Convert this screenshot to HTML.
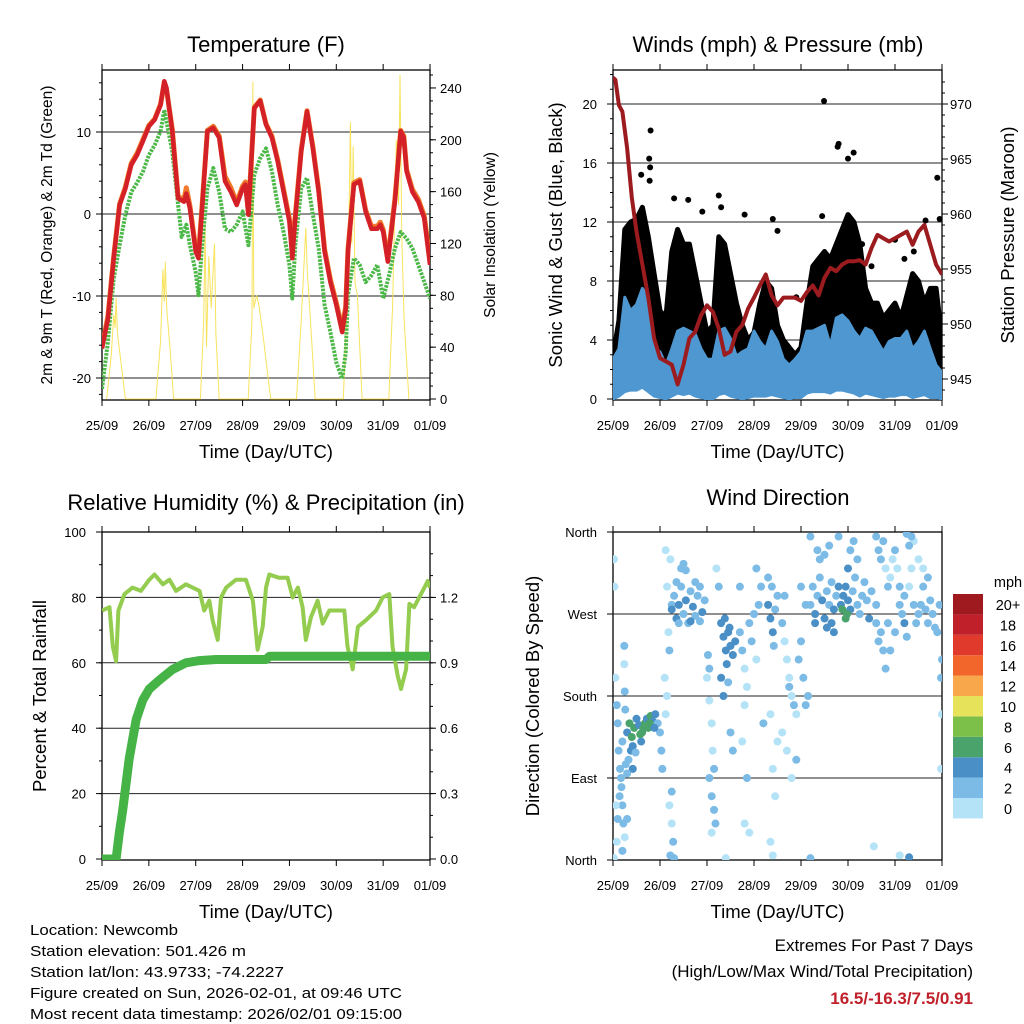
<!DOCTYPE html>
<html><head><meta charset="utf-8"><style>
html,body{margin:0;padding:0;background:#fff}
svg{display:block;font-family:"Liberation Sans",Arial,sans-serif}
</style></head><body>
<svg id="fig" width="1024" height="1024" viewBox="0 0 1024 1024" xmlns="http://www.w3.org/2000/svg">
<defs>
<clipPath id="c1"><rect x="102" y="70" width="328" height="330"/></clipPath>
<clipPath id="c2"><rect x="613" y="70" width="329" height="330"/></clipPath>
<clipPath id="c3"><rect x="102" y="532" width="328" height="328"/></clipPath>
<clipPath id="c4"><rect x="613" y="532" width="329" height="328"/></clipPath>
</defs>
<g id="layer"></g>
<g font-size="15" fill="#000">
<text x="30" y="935" textLength="148" lengthAdjust="spacingAndGlyphs">Location: Newcomb</text>
<text x="30" y="956" textLength="216" lengthAdjust="spacingAndGlyphs">Station elevation: 501.426 m</text>
<text x="30" y="977" textLength="254" lengthAdjust="spacingAndGlyphs">Station lat/lon: 43.9733; -74.2227</text>
<text x="30" y="998" textLength="372" lengthAdjust="spacingAndGlyphs">Figure created on Sun, 2026-02-01, at 09:46 UTC</text>
<text x="30" y="1019" textLength="372" lengthAdjust="spacingAndGlyphs">Most recent data timestamp: 2026/02/01 09:15:00</text>
</g>
<g font-size="17" text-anchor="end">
<text x="973" y="951">Extremes For Past 7 Days</text>
<text x="973" y="977">(High/Low/Max Wind/Total Precipitation)</text>
<text x="973" y="1004" fill="#c0202a" font-weight="bold">16.5/-16.3/7.5/0.91</text>
</g>
</svg>
<script>
// ---------- Temperature data ----------
const tDays=[0,0.125,0.25,0.375,0.5,0.625,0.75,0.875,1.0,1.125,1.25,1.33,1.375,1.5,1.625,1.75,1.8,1.875,2.0,2.06,2.125,2.25,2.375,2.5,2.625,2.75,2.875,3.0,3.06,3.125,3.25,3.375,3.5,3.625,3.75,3.875,4.0,4.06,4.125,4.25,4.375,4.5,4.625,4.75,4.875,5.0,5.125,5.2,5.25,5.375,5.5,5.625,5.75,5.875,5.94,6.0,6.1,6.25,6.375,6.44,6.5,6.625,6.75,6.875,7.0];
const tempRed=[-16.4,-12.8,-5.4,1.1,3.1,6,7.2,8.9,10.7,11.5,13.3,16.2,15.4,10.1,1.9,1.5,2.5,0.7,-4.6,-5.4,-0.1,10.1,10.5,9.3,4,2.7,1.1,3.1,3.6,-0.1,12.9,13.8,10.9,9.3,6.4,2.7,-0.9,-5.4,-0.5,7.6,12.5,8,2.7,-4.6,-8.3,-11.1,-14.4,-11.6,-4.6,3.6,4,0.3,-1.8,-1.8,-1.3,-2.2,-5.8,1.5,10.1,9.3,5.2,2.7,1.5,-0.5,-6.2];
const tempOrange=[-16.2,-12.5,-5.2,1.2,3.3,6.2,7.4,9.1,10.8,11.6,13.4,16.1,15.3,10.3,2.1,1.8,3.2,1.0,-4.2,-5.0,0.2,10.2,10.7,9.5,4.6,3.2,1.4,3.4,3.9,0.2,13.0,13.9,11.0,9.5,6.6,3.0,-0.6,-3.8,-0.2,7.8,12.6,8.2,2.9,-4.3,-8.0,-10.8,-14.0,-11.3,-4.3,3.8,4.2,0.5,-1.5,-1.5,-1.0,-1.9,-5.5,1.8,10.2,9.5,5.4,3.0,1.8,-0.2,-5.6];
const tdDays=[0,0.125,0.25,0.375,0.5,0.625,0.75,0.875,1.0,1.125,1.25,1.33,1.5,1.625,1.7,1.8,1.875,2.0,2.06,2.125,2.25,2.375,2.5,2.625,2.75,2.875,3.0,3.125,3.25,3.375,3.5,3.625,3.75,3.875,4.0,4.06,4.125,4.25,4.375,4.5,4.625,4.75,4.875,5.0,5.125,5.2,5.25,5.375,5.5,5.625,5.75,5.875,6.0,6.125,6.25,6.375,6.5,6.625,6.75,7.0];
const tempDew=[-21.3,-15.6,-7.9,-3.8,-0.1,2.7,3.8,5.2,7.2,8.4,10.1,12.7,7.6,1.1,-2.8,-1.3,-3.8,-7.1,-9.9,-4.6,3.1,5.6,2.7,-1.8,-2.2,-1.3,0.3,-3.8,4.8,6.8,8,5.2,1.1,-2.2,-6.2,-10.3,-3.8,3.1,4.4,-0.1,-4.2,-11.1,-14.4,-18.1,-20.1,-16.9,-9.9,-5.4,-6.2,-8.3,-7.5,-6.2,-10.3,-7.5,-4.2,-2.2,-3.0,-4.2,-6.2,-10.3];
const solarDays=[0.1,0.2,0.25,0.28,0.3,0.33,0.4,0.5, 1.15,1.25,1.3,1.33,1.35,1.38,1.45,1.53, 2.1,2.17,2.2,2.23,2.28,2.33,2.4,2.43,2.5, 3.12,3.2,3.22,3.24,3.3,3.35,3.45,3.6, 4.15,4.25,4.32,4.35,4.38,4.45,4.55, 5.15,5.25,5.3,5.33,5.36,5.4,5.45,5.55, 6.12,6.2,6.28,6.33,6.36,6.4,6.45,6.55];
const solarVals=[0,35,65,55,78,50,30,0, 0,45,100,75,106,70,40,0, 0,60,135,40,110,70,120,50,0, 0,60,245,70,80,72,45,0, 0,60,110,132,100,60,0, 0,90,214,120,195,90,80,0, 0,70,200,150,250,120,60,0];
const tempTicks=[-20,-10,0,10];
const solarTicks=[0,40,80,120,160,200,240];
// ---------- Wind / pressure data ----------
const wDays=[0,0.125,0.25,0.375,0.5,0.625,0.75,0.875,1.0,1.125,1.25,1.375,1.5,1.625,1.75,1.875,2.0,2.125,2.25,2.375,2.5,2.625,2.75,2.875,3.0,3.125,3.25,3.375,3.5,3.625,3.75,3.875,4.0,4.125,4.25,4.375,4.5,4.625,4.75,4.875,5.0,5.125,5.25,5.375,5.5,5.625,5.75,5.875,6.0,6.125,6.25,6.375,6.5,6.625,6.75,6.875,7.0];
const windHi=[2.7,3.4,6.9,6.0,6.4,7.5,6.9,3.4,3.2,2.3,3.4,4.6,4.8,4.6,4.4,3.4,2.7,2.7,4.6,4.8,4.1,2.9,3.2,3.4,4.6,3.9,3.4,4.6,3.9,2.7,2.3,2.7,3.2,4.6,4.6,4.8,5.0,3.6,5.5,5.7,5.3,4.6,4.1,4.8,4.6,3.9,3.2,3.9,4.1,4.1,4.6,3.4,3.9,4.6,3.4,2.3,1.8];
const windLo=[0,0.2,0.5,0.6,0.6,0.8,0.5,0.2,0.1,0,0.2,0.4,0.3,0.4,0.2,0.1,0,0,0.3,0.4,0.2,0.1,0,0.1,0.2,0.2,0.2,0.3,0.2,0.1,0,0.1,0.1,0.4,0.5,0.5,0.5,0.4,0.6,0.6,0.5,0.4,0.2,0.4,0.3,0.2,0.1,0.2,0.2,0.3,0.3,0.1,0.2,0.3,0.1,0.1,0];
const gustHi=[2.9,5.3,11.5,12,12.2,13,11,8.5,6,5.5,10,11.5,10.5,10.5,8.5,6.5,4.5,5,11,10.5,8.5,6.5,5,4,4.5,6.5,8,7.5,5,4,3.5,3,3.5,6.5,9,9.5,10,9.5,10.5,11.5,12.5,12,10.5,7.5,6.5,6.5,5.5,6,6.5,5.5,7,8.5,8,6.5,7.5,7.5,4];
const gustLo=[0.8,2,3.5,3.5,3.8,4.5,4,2.5,2,1.5,2.5,3.5,3.5,3.5,3,2.5,1.5,1.5,3,3.5,3,2.2,2,2,3,2.5,2.5,3,2.5,2,1.8,1.8,2,3,3.5,3.5,3.5,3,4,4,4,3.5,3,3,3,2.5,2,2.5,2.5,2.5,3,2.5,2.5,3,2.5,2,1];
const gustOutDays=[0.78,0.79,0.8,0.77,1.6,1.9,2.3,2.8,3.4,3.5,4.45,4.49,4.78,4.8,5.0,5.12,6.0,6.65,6.9,6.95,0.6,1.3,2.25,3.9,5.3,5.5,6.2,6.4];
const gustOutVals=[14.8,15.7,18.2,16.3,13.5,12.7,13,12.5,12.2,11.4,12.4,20.2,17.1,17.3,16.3,16.7,10.8,12.1,15.0,12.2,15.2,13.6,13.8,6.9,10.5,9,9.5,10];
const presDays=[0,0.05,0.125,0.2,0.3,0.4,0.5,0.625,0.75,0.875,1.0,1.125,1.25,1.375,1.5,1.625,1.75,1.875,2.0,2.125,2.25,2.375,2.5,2.625,2.75,2.875,3.0,3.125,3.25,3.375,3.5,3.625,3.75,3.875,4.0,4.125,4.25,4.375,4.5,4.625,4.75,4.875,5.0,5.125,5.25,5.375,5.5,5.625,5.75,5.875,6.0,6.125,6.25,6.375,6.5,6.625,6.75,6.875,7.0];
const presVals=[972.4,972.2,969.9,969.3,966,961.5,958.4,955.4,952.4,948.7,946.9,946.6,946.3,944.5,946.3,948.7,949.3,950.8,951.7,951.1,949.6,947.2,947.5,949.3,949.9,951.4,952.4,953.5,954.5,952.6,951.7,952.4,952.4,952.4,952.1,952.9,953.5,952.6,954.2,955.1,954.8,955.4,955.7,955.7,955.8,955.4,956.9,958.1,957.8,957.5,957.8,958.1,958.4,957.2,958.4,959.0,957.2,955.4,954.5];
const windTicks=[0,4,8,12,16,20];
const presTicks=[945,950,955,960,965,970];
// ---------- RH / precip data ----------
const rhDays=[0,0.16,0.23,0.3,0.35,0.48,0.65,0.83,1.01,1.12,1.3,1.44,1.58,1.79,2.08,2.18,2.29,2.36,2.47,2.54,2.65,2.86,3.07,3.22,3.32,3.43,3.5,3.57,3.78,3.96,4.07,4.18,4.28,4.35,4.46,4.6,4.71,4.85,5.06,5.17,5.24,5.35,5.46,5.63,5.85,5.99,6.13,6.2,6.31,6.38,6.49,6.56,6.66,6.77,6.88,6.95,7.0];
const rhVals=[76,77,65,60.5,76,81,83,82,85.4,87,84,85.4,82,84,82,76,79,73,67,80,83,85.4,85.4,79,64,71,83,87,86,86,80,83,77,67,74,79,72,76,76,76,65,58,71,73,76,80,81,65,56,52,58,78,77,80,83,85,83];
const pcpDays=[0,0.3,0.37,0.44,0.58,0.73,0.87,1.01,1.22,1.51,1.79,2.08,2.43,3.5,3.57,7.0];
const pcpVals=[0,0,0.12,0.22,0.46,0.64,0.73,0.78,0.82,0.87,0.90,0.91,0.915,0.915,0.93,0.93];
const rhTicks=[0,20,40,60,80,100];
const pcpTicks=["0.0","0.3","0.6","0.9","1.2"];
// ---------- Wind direction data ----------
const wdDay=[0.02,0.03,0.05,0.08,0.1,0.12,0.15,0.18,0.2,0.22,0.25,0.06,0.1,0.14,0.17,0.2,0.27,0.3,0.08,0.24,0.24,0.25,0.26,0.2,
0.3,0.35,0.4,0.42,0.45,0.5,0.55,0.6,0.62,0.68,0.72,0.75,0.8,0.85,0.9,0.95,1.0,0.38,0.48,0.33,0.58,0.65,0.78,0.88,1.03,1.05,0.42,0.3,
1.12,1.15,1.18,1.2,1.1,1.15,1.22,1.25,1.12,1.2,1.25,1.28,1.22,1.25,
1.25,1.3,1.35,1.4,1.45,1.5,1.55,1.6,1.65,1.7,1.75,1.8,1.85,1.9,1.95,1.35,1.45,1.55,1.65,1.85,1.5,1.4,1.75,
2.0,2.05,2.1,2.12,2.05,2.1,2.15,2.18,2.1,2.05,2.15,2.02,2.2,2.25,
2.3,2.35,2.4,2.45,2.5,2.55,2.38,2.48,2.6,2.42,2.3,2.35,2.45,2.5,2.55,
2.7,2.75,2.8,2.85,2.9,2.95,3.0,3.05,2.8,2.75,2.85,2.8,2.9,3.1,3.15,3.05,2.7,
3.3,3.35,3.4,3.45,3.5,3.38,3.42,3.3,3.2,3.35,3.5,3.4,3.45,3.35,3.4,
3.6,3.65,3.7,3.75,3.8,3.85,3.9,3.6,3.7,3.75,3.95,4.0,4.05,4.1,3.8,3.9,4.0,4.1,4.15,3.65,
4.2,4.25,4.3,4.35,4.4,4.45,4.5,4.55,4.6,4.65,4.7,4.75,4.8,4.85,4.9,4.95,5.0,5.05,5.1,5.15,5.2,5.25,5.3,5.35,5.4,5.45,4.88,4.95,4.98,4.35,4.4,4.5,4.6,4.2,4.3,4.55,4.7,5.5,5.6,5.0,5.05,5.12,5.2,4.8,4.65,
5.6,5.65,5.7,5.75,5.8,5.85,5.9,5.95,6.0,6.05,6.1,5.7,5.75,5.8,5.6,5.65,6.1,6.15,6.2,6.2,6.25,6.3,6.35,6.4,6.45,6.5,6.55,6.6,6.65,6.7,6.75,6.8,6.85,6.9,6.95,7.0,6.98,7.0,6.4,6.35,6.3,6.25,6.5,6.6,6.7,6.0,5.9,5.85,
4.2,6.1,6.3,6.98,5.55,0.02,2.4,1.3];
const wdDir=[330,300,200,170,150,120,100,80,60,40,25,60,45,70,90,130,105,45,20,235,215,185,165,10,
140,150,135,125,145,155,148,130,140,150,155,145,158,152,160,150,140,120,118,110,138,145,150,145,120,100,100,95,
340,300,250,230,200,180,330,280,160,60,40,20,5,75,
275,290,265,280,300,270,285,260,295,278,268,290,300,272,285,305,320,318,262,262,325,260,305,
200,175,150,120,90,70,55,40,30,210,100,225,320,300,
260,245,230,250,235,225,265,255,240,215,200,180,195,140,120,
250,230,210,190,260,240,270,220,170,130,90,40,30,280,300,320,300,
280,265,250,275,290,300,235,310,150,160,130,100,70,20,5,
260,240,220,200,180,170,160,140,120,190,220,240,200,170,90,110,300,280,180,290,
280,300,270,290,310,285,265,295,280,305,275,290,300,280,290,300,285,275,295,310,280,270,290,305,285,265,275,265,270,340,330,335,345,355,260,255,250,295,280,320,340,350,330,355,260,
355,340,330,350,320,300,310,330,340,320,300,250,230,210,260,240,280,270,290,260,245,300,320,280,260,270,280,300,275,260,285,270,255,250,280,220,200,160,350,355,345,358,330,320,310,250,230,260,
2,5,3,100,15,2,2,2];
const wdSpd=[1,1,1,2,2,3,2,3,2,3,1,1,2,2,3,3,2,3,1,2,1,3,3,2,
4,6,6,5,6,4,5,5,6,7,5,6,6,5,4,3,3,4,3,3,6,6,7,5,2,2,4,3,
1,1,1,2,1,1,1,3,1,1,1,2,2,2,
4,3,4,4,3,3,4,3,3,4,3,3,3,4,3,2,3,2,4,3,3,3,3,
1,1,1,1,2,3,2,2,1,2,2,3,1,2,
5,5,4,5,4,4,4,5,4,4,4,4,3,3,2,
2,2,1,1,2,3,3,1,1,1,2,1,1,3,2,3,2,
4,4,4,3,3,3,3,2,2,1,1,1,1,1,1,
2,1,1,1,1,2,1,1,1,2,2,3,3,2,1,2,2,3,3,3,
3,3,4,3,3,4,4,3,3,3,4,3,4,5,5,5,5,4,3,2,3,3,3,2,3,4,6,6,6,3,2,3,2,2,5,5,4,3,2,4,3,2,2,3,5,
2,3,3,2,1,2,1,1,2,1,2,3,2,2,3,3,2,3,2,4,3,1,1,2,2,2,3,2,3,3,2,3,3,3,3,2,2,1,1,2,2,2,1,1,2,2,2,3,
3,1,4,1,1,1,1,2];
const dirTicks=["North","East","South","West","North"];
const dayLabels=["25/09","26/09","27/09","28/09","29/09","30/09","31/09","01/09"];
const spdColors=["#b4e2f7","#7bbbe6","#4a8fc6","#4aa36a","#7cc04a","#e6e25a","#f8a84a","#f2662b","#e03a2c","#c0202a","#9e1a1f"];
const spdLabels=["0","2","4","6","8","10","12","14","16","18","20+"];

// ---------- helpers ----------
const NS="http://www.w3.org/2000/svg";
const root=document.getElementById('layer');
function mk(tag,attrs,parent){const e=document.createElementNS(NS,tag);for(const k in attrs)e.setAttribute(k,attrs[k]);(parent||root).appendChild(e);return e;}
function txt(x,y,s,size,anchor,parent,extra){const t=mk('text',Object.assign({x:x,y:y,'font-size':size,'text-anchor':anchor||'middle'},extra||{}),parent);t.textContent=s;return t;}
function pathD(xs,ys,fx,fy){return xs.map((d,i)=>(i?'L':'M')+fx(d).toFixed(1)+','+fy(ys[i]).toFixed(1)).join('');}

const xL=d=>102+d*46.86, xR=d=>613+d*47;
const yT=v=>214-v*8.2, yS=v=>399-v*1.296;
const yW=v=>399-v*14.75, yP=p=>104+(970-p)*11;
const yRH=v=>859-v*3.27, yPc=v=>859-v/0.015*3.27;
const yD=i=>860-i*82;
const yDeg=d=>860-d*328/360;

function frame(x0,y0,w,h,name,xf){
  const g=mk('g',{});
  
  
  mk('rect',{x:x0,y:y0,width:w,height:h,fill:'none',stroke:'#000','stroke-width':1.3},g);
  dayLabels.forEach((lab,i)=>{
    const x=xf(i);
    mk('line',{x1:x,y1:y0+h,x2:x,y2:y0+h+6,stroke:'#000'},g);
    mk('line',{x1:x,y1:y0,x2:x,y2:y0-6,stroke:'#000'},g);
    const t=txt(x,y0+h+30,lab,13,'middle',g);
    
    
  });
  const xt=txt(x0+w/2,y0+h+58,'Time (Day/UTC)',18.5,'middle',g);
  
  
  return g;
}
function grid(x0,w,y,g){mk('line',{x1:x0,y1:y,x2:x0+w,y2:y,stroke:'#222','stroke-width':1},g);}
function ytick(x,y,len,g){mk('line',{x1:x,y1:y,x2:x+len,y2:y,stroke:'#000'},g);}

// ---------- Panel 1 ----------
{
  const g=frame(102,70,328,330,'temperature',xL);
  const title=txt(266,52,'Temperature (F)',22,'middle');
  
  
  tempTicks.forEach(v=>{grid(102,328,yT(v),g);ytick(102,yT(v),-6,g);const t=txt(91,yT(v)+5,String(v),13,'end',g);});
  for(let v=-22;v<=16;v+=2){ytick(102,yT(v),-3,g);}
  solarTicks.forEach(v=>{ytick(430,yS(v),6,g);const t=txt(440,yS(v)+5,String(v),13,'start',g);});
  for(let v=0;v<=250;v+=10){ytick(430,yS(v),3,g);}
  const cg=mk('g',{'clip-path':'url(#c1)'});
  const sol=mk('path',{d:pathD(solarDays,solarVals,xL,yS),fill:'none',stroke:'#f7e04a','stroke-width':1,opacity:0.9},cg);
  
  
  const dew=mk('path',{d:pathD(tdDays,tempDew,xL,yT),fill:'none',stroke:'#4cb848','stroke-width':4,'stroke-dasharray':'2.5 1.2','stroke-linejoin':'round'},cg);
  
  
  const org=mk('path',{d:pathD(tDays,tempOrange,xL,yT),fill:'none',stroke:'#f07a2a','stroke-width':5,'stroke-linejoin':'round'},cg);
  
  
  const red=mk('path',{d:pathD(tDays,tempRed,xL,yT),fill:'none',stroke:'#d42027','stroke-width':4.5,'stroke-linejoin':'round'},cg);
  
  
  const yl=txt(0,0,'2m & 9m T (Red, Orange) & 2m Td (Green)',15.5,'middle');
  yl.setAttribute('transform','translate(52,235) rotate(-90)');
  
  
  const yr=txt(0,0,'Solar Insolation (Yellow)',15.5,'middle');
  yr.setAttribute('transform','translate(495,235) rotate(-90)');
  
  
}
// ---------- Panel 2 ----------
{
  const g=frame(613,70,329,330,'winds',xR);
  const title=txt(778,52,'Winds (mph) & Pressure (mb)',22,'middle');
  
  
  windTicks.forEach(v=>{if(v>0)grid(613,329,yW(v),g);ytick(613,yW(v),-6,g);const t=txt(597,yW(v)+5,String(v),13,'end',g);});
  for(let v=0;v<=22;v+=1){ytick(613,yW(v),-3,g);}
  presTicks.forEach(v=>{ytick(942,yP(v),6,g);const t=txt(950,yP(v)+5,String(v),13,'start',g);});
  for(let v=944;v<=972;v+=1){ytick(942,yP(v),3,g);}
  const cg=mk('g',{'clip-path':'url(#c2)'});
  const up=wDays.map((d,i)=>xR(d).toFixed(1)+','+yW(gustHi[i]).toFixed(1));
  const dn=wDays.map((d,i)=>xR(d).toFixed(1)+','+yW(gustLo[i]).toFixed(1)).reverse();
  const gp=mk('polygon',{points:up.concat(dn).join(' '),fill:'#000',stroke:'#000','stroke-width':5,'stroke-linejoin':'round'},cg);
  
  
  gustOutDays.forEach((d,i)=>{
    const c=mk('circle',{cx:xR(d),cy:yW(gustOutVals[i]),r:3,fill:'#000'},cg);
    
    
  });
  const wu=wDays.map((d,i)=>xR(d).toFixed(1)+','+yW(windHi[i]).toFixed(1));
  const wd=wDays.map((d,i)=>xR(d).toFixed(1)+','+yW(windLo[i]).toFixed(1)).reverse();
  const wp=mk('polygon',{points:wu.concat(wd).join(' '),fill:'#4f97d0',stroke:'#4f97d0','stroke-width':3,'stroke-linejoin':'round'},cg);
  
  
  const pr=mk('path',{d:pathD(presDays,presVals,xR,yP),fill:'none',stroke:'#9b1b1f','stroke-width':4,'stroke-linejoin':'round'},cg);
  
  
  const yl=txt(0,0,'Sonic Wind & Gust (Blue, Black)',18.5,'middle');
  yl.setAttribute('transform','translate(562,235) rotate(-90)');
  
  
  const yr=txt(0,0,'Station Pressure (Maroon)',18.5,'middle');
  yr.setAttribute('transform','translate(1014,235) rotate(-90)');
  
  
}
// ---------- Panel 3 ----------
{
  const g=frame(102,532,328,328,'humidity',xL);
  const title=txt(266,510,'Relative Humidity (%) & Precipitation (in)',22,'middle');
  
  
  rhTicks.forEach(v=>{if(v>0&&v<100)grid(102,328,yRH(v),g);ytick(102,yRH(v),-6,g);const t=txt(86,yRH(v)+5,String(v),13,'end',g);});
  for(let v=0;v<=100;v+=10){ytick(102,yRH(v),-3,g);}
  pcpTicks.forEach(s=>{const v=parseFloat(s);ytick(430,yPc(v),6,g);const t=txt(440,yPc(v)+5,s,13,'start',g);});
  for(let v=0;v<=1.5;v+=0.1){ytick(430,yPc(v),3,g);}
  const cg=mk('g',{'clip-path':'url(#c3)'});
  const rh=mk('path',{d:pathD(rhDays,rhVals,xL,yRH),fill:'none',stroke:'#93cc4e','stroke-width':4,'stroke-linejoin':'round'},cg);
  
  
  const pc=mk('path',{d:pathD(pcpDays,pcpVals,xL,yPc),fill:'none',stroke:'#46b347','stroke-width':9,'stroke-linejoin':'round'},cg);
  
  
  const yl=txt(0,0,'Percent & Total Rainfall',18.5,'middle');
  yl.setAttribute('transform','translate(46,696) rotate(-90)');
  
  
}
// ---------- Panel 4 ----------
{
  const g=frame(613,532,329,328,'direction',xR);
  const title=txt(778,505,'Wind Direction',22,'middle');
  
  
  dirTicks.forEach((s,i)=>{if(i>0&&i<4)grid(613,329,yD(i),g);ytick(613,yD(i),-6,g);const t=txt(597,yD(i)+5,s,13,'end',g);});
  const cg=mk('g',{'clip-path':'url(#c4)'});
  wdDay.forEach((d,i)=>{
    const k=Math.min(10,Math.floor(wdSpd[i]/2));
    const c=mk('circle',{cx:xR(d),cy:yDeg(wdDir[i]),r:4,fill:spdColors[k]},cg);
    
    
  });
  const yl=txt(0,0,'Direction (Colored By Speed)',18.5,'middle');
  yl.setAttribute('transform','translate(539,696) rotate(-90)');
  
  
  const lg=mk('g',{});
  
  
  const u=txt(1008,587,'mph',14.5,'middle',lg);
  
  
  spdColors.forEach((c,i)=>{
    const y=798-i*20.4;
    const r=mk('rect',{x:953,y:y,width:30,height:20.4,fill:c},lg);
    
    
    const t=txt(1008,y+16,spdLabels[i],14.5,'middle',lg);
    
    
  });
}
</script>
</body></html>
